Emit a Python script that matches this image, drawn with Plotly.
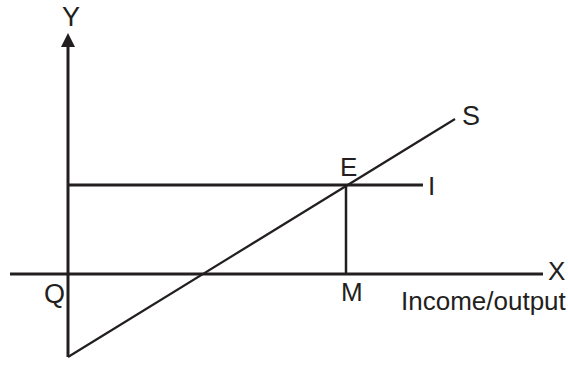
import plotly.graph_objects as go

INK = "#231f20"

# Schematic data (origin Q at 0,0)
y_axis_x = [0, 0]
y_axis_y = [-83, 236]
y_arrow_tip = 241
x_axis_x = [-58, 475]
x_axis_y = [0, 0]
s_x = [0, 387]
s_y = [-83, 155]
i_x = [0, 355]
i_y = [89, 89]
e_x = 278
e_y = 89

labels = ["Y", "X", "Q", "M", "E", "I", "S", "Income/output"]
label_x = [3, 488, -14, 284, 280, 363, 403, 416]
label_y = [257, 3, -20, -18, 107, 88, 158, -27]
label_size = [27, 26, 27, 26, 26, 26, 27, 26]

fig = go.Figure()
fig.add_trace(go.Scatter(x=x_axis_x, y=x_axis_y, mode="lines",
                         line=dict(color=INK, width=3), hoverinfo="skip"))
fig.add_trace(go.Scatter(x=y_axis_x, y=y_axis_y, mode="lines",
                         line=dict(color=INK, width=3), hoverinfo="skip"))
fig.add_trace(go.Scatter(x=[0], y=[y_arrow_tip], mode="markers",
                         marker=dict(symbol="arrow-up", size=14, color=INK,
                                     line=dict(width=0)), hoverinfo="skip"))
fig.add_trace(go.Scatter(x=i_x, y=i_y, mode="lines",
                         line=dict(color=INK, width=3), hoverinfo="skip"))
fig.add_trace(go.Scatter(x=[e_x, e_x], y=[e_y, 0], mode="lines",
                         line=dict(color=INK, width=2.5), hoverinfo="skip"))
fig.add_trace(go.Scatter(x=s_x, y=s_y, mode="lines",
                         line=dict(color=INK, width=2.2), hoverinfo="skip"))

for t, lx, ly, fs in zip(labels, label_x, label_y, label_size):
    fig.add_annotation(x=lx, y=ly, text=t, showarrow=False,
                       xanchor="center", yanchor="middle", borderpad=0,
                       font=dict(family="Liberation Sans, Arial", size=fs, color=INK))

fig.update_layout(
    width=568, height=365,
    margin=dict(l=0, r=0, t=0, b=0),
    paper_bgcolor="white", plot_bgcolor="white",
    showlegend=False,
    xaxis=dict(range=[-68, 500], visible=False, fixedrange=True),
    yaxis=dict(range=[-91, 274], visible=False, fixedrange=True),
)
fig.write_html("out.html", config={"displayModeBar": False},
               post_script="document.body.style.margin='0';document.body.style.overflow='hidden';")
